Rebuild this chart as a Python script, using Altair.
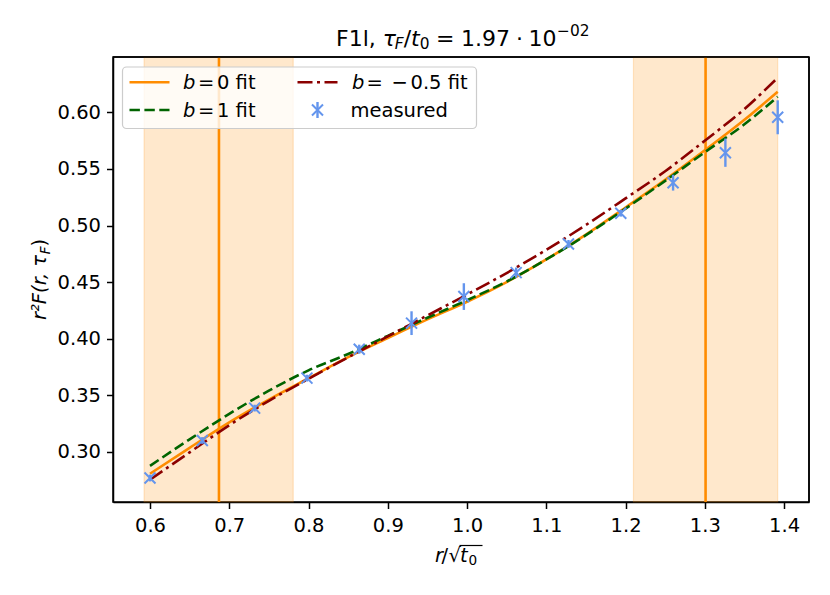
import altair as alt
import pandas as pd

# ---------------- data ----------------
r_meas = [0.600, 0.666, 0.732, 0.798, 0.864, 0.930, 0.996, 1.062, 1.128, 1.194, 1.260, 1.326, 1.392]
F_meas = [0.2768, 0.3100, 0.3386, 0.3651, 0.3907, 0.4137, 0.4372, 0.4584, 0.4837, 0.5109, 0.5379, 0.5644, 0.5957]
F_err = [0.0030, 0.0030, 0.0030, 0.0030, 0.0040, 0.0105, 0.0118, 0.0045, 0.0035, 0.0030, 0.0070, 0.0125, 0.0150]

r_fit = [0.600, 0.650, 0.700, 0.750, 0.800, 0.850, 0.900, 0.950, 1.000, 1.050, 1.100, 1.150, 1.200, 1.250, 1.300, 1.350, 1.392]
F_b0 = [0.2806, 0.3035, 0.3260, 0.3462, 0.3650, 0.3836, 0.4005, 0.4170, 0.4326, 0.4500, 0.4700, 0.4920, 0.5160, 0.5405, 0.5665, 0.5935, 0.6183]
F_b1 = [0.2876, 0.3110, 0.3335, 0.3540, 0.3720, 0.3865, 0.4025, 0.4185, 0.4340, 0.4505, 0.4700, 0.4915, 0.5150, 0.5395, 0.5648, 0.5895, 0.6139]
F_bm = [0.2753, 0.2995, 0.3235, 0.3450, 0.3645, 0.3835, 0.4020, 0.4205, 0.4390, 0.4580, 0.4785, 0.5005, 0.5240, 0.5480, 0.5750, 0.6030, 0.6307]

band_lo = [0.5925, 1.210]
band_hi = [0.7807, 1.392]
band_mid = [0.687, 1.301]

x_ticks = [0.6, 0.7, 0.8, 0.9, 1.0, 1.1, 1.2, 1.3, 1.4]
y_ticks = [0.30, 0.35, 0.40, 0.45, 0.50, 0.55, 0.60]

# ---------------- tables ----------------
meas = pd.DataFrame({"r": r_meas, "F": F_meas,
                     "lo": [f - e for f, e in zip(F_meas, F_err)],
                     "hi": [f + e for f, e in zip(F_meas, F_err)]})
fits = pd.concat([
    pd.DataFrame({"r": r_fit, "F": F_b0, "s": "b0"}),
    pd.DataFrame({"r": r_fit, "F": F_b1, "s": "b1"}),
    pd.DataFrame({"r": r_fit, "F": F_bm, "s": "bm"}),
])
bands = pd.DataFrame({"lo": band_lo, "hi": band_hi, "mid": band_mid})
one = pd.DataFrame({"k": [0]})

W, H = 696, 445
X0, Y0 = 113, 57
FONT = "DejaVu Sans"
ORANGE = "#ff8c00"
GREEN = "#006400"
RED = "#8b0000"
BLUE = "#6495ed"
XPATH = "M-1,-1L1,1M-1,1L1,-1"

xs = alt.Scale(domain=[0.5533, 1.4315], nice=False, zero=False)
ys = alt.Scale(domain=[0.2556, 0.649], nice=False, zero=False)
common_axis = dict(title=None, grid=False, labelFontSize=19.5, labelFont=FONT, labelColor="black",
                   tickColor="black", domainColor="black", tickSize=6.5, tickWidth=1.5,
                   domainWidth=1.5, labelFlush=False, labelOverlap=False, labelBound=False)
xax = alt.Axis(values=x_ticks, format=".1f", labelPadding=8, **common_axis)
yax = alt.Axis(values=y_ticks, format=".2f", labelPadding=6, **common_axis)


def X(f):
    return alt.X(f, type="quantitative", scale=xs, axis=xax)


def Y(f):
    return alt.Y(f, type="quantitative", scale=ys, axis=yax)


def txt(s, px, py, size=19.5, italic=False, angle=0):
    return alt.Chart(one).mark_text(
        text=s, align="left", baseline="alphabetic", fontSize=size, font=FONT,
        fontStyle="italic" if italic else "normal", angle=angle, color="black"
    ).encode(x=alt.value(px - X0), y=alt.value(py - Y0))


def hline(px1, px2, py, color, dash=None, width=2.6):
    kw = dict(color=color, strokeWidth=width)
    if dash:
        kw["strokeDash"] = dash
    return alt.Chart(one).mark_rule(**kw).encode(
        x=alt.value(px1 - X0), x2=alt.value(px2 - X0), y=alt.value(py - Y0))


DASH = [10.4, 4.5]
DASHDOT = [15, 4.5, 3, 4.5]

layers = []
# shaded windows
layers.append(alt.Chart(bands).mark_rect(fill=ORANGE, fillOpacity=0.2, stroke=ORANGE,
                                         strokeOpacity=0.2, strokeWidth=1.2).encode(
    x=X("lo"), x2="hi", y=alt.value(0), y2=alt.value(H)))
# vertical lines
layers.append(alt.Chart(bands).mark_rule(color=ORANGE, strokeWidth=2.6).encode(x=X("mid")))
# fits
for key, color, dash in [("b0", ORANGE, None), ("b1", GREEN, DASH), ("bm", RED, DASHDOT)]:
    kw = dict(color=color, strokeWidth=2.6, interpolate="monotone")
    if dash:
        kw["strokeDash"] = dash
    layers.append(alt.Chart(fits).transform_filter(alt.datum.s == key).mark_line(**kw).encode(
        x=X("r"), y=Y("F")))
# measured
layers.append(alt.Chart(meas).mark_rule(color=BLUE, strokeWidth=2.4).encode(x=X("r"), y=Y("lo"), y2="hi"))
layers.append(alt.Chart(meas).mark_point(shape=XPATH, size=121, strokeWidth=2, color=BLUE,
                                         filled=False, opacity=1).encode(x=X("r"), y=Y("F")))

# frame (top and right edges of the axes box)
layers.append(alt.Chart(one).mark_rule(color="black", strokeWidth=1.5).encode(
    x=alt.value(0), x2=alt.value(W), y=alt.value(0)))
layers.append(alt.Chart(one).mark_rule(color="black", strokeWidth=1.5).encode(
    x=alt.value(W), y=alt.value(0), y2=alt.value(H)))

# legend box
layers.append(alt.Chart(one).mark_rect(fill="white", fillOpacity=0.8, stroke="#cccccc",
                                       strokeWidth=1.2, cornerRadius=4).encode(
    x=alt.value(122.5 - X0), x2=alt.value(476.5 - X0), y=alt.value(67 - Y0), y2=alt.value(128.5 - Y0)))
R1, R2 = 82.3, 110.0
layers.append(hline(129.5, 169.5, R1, ORANGE))
layers.append(hline(129.5, 169.5, R2, GREEN, DASH))
layers.append(hline(297.5, 337.5, R1, RED, DASHDOT))
layers.append(alt.Chart(one).mark_rule(color=BLUE, strokeWidth=2.4).encode(
    x=alt.value(317.5 - X0), y=alt.value(R2 - 8 - Y0), y2=alt.value(R2 + 8 - Y0)))
layers.append(alt.Chart(one).mark_point(shape=XPATH, size=121, strokeWidth=2, color=BLUE,
                                        filled=False, opacity=1).encode(
    x=alt.value(317.5 - X0), y=alt.value(R2 - Y0)))
B1, B2 = R1 + 7, R2 + 7
layers += [
    txt("b", 183, B1, italic=True), txt("=", 198, B1), txt("0 fit", 217, B1),
    txt("b", 183, B2, italic=True), txt("=", 198, B2), txt("1 fit", 217, B2),
    txt("b", 352, B1, italic=True), txt("=", 366.5, B1), txt("\u2212", 391.5, B1), txt("0.5 fit", 410.5, B1),
    txt("measured", 350.5, B2),
]

# title pieces
TB = 45.5
layers += [
    txt("F1l,", 336, TB, 22),
    txt("\u03c4", 382.7, TB, 22, italic=True),
    txt("F", 394.8, TB + 3.5, 15.4, italic=True),
    txt("/", 403.7, TB, 22),
    txt("t", 411.1, TB, 22, italic=True),
    txt("0", 419.7, TB + 3.5, 15.4),
    txt("=", 436.1, TB, 22),
    txt("1.97", 461.1, TB, 22),
    txt("\u00b7", 516, TB, 22),
    txt("10", 528.5, TB, 22),
    txt("\u221202", 557, TB - 9.5, 15.4),
]

# x axis label pieces
XB = 561.7
layers += [
    txt("r", 435, XB, italic=True),
    txt("/", 441.5, XB),
    txt("\u221a", 448.5, XB),
    txt("t", 460, XB, italic=True),
    txt("0", 468.5, XB + 3, 13.65),
    hline(459.5, 482.5, 545.5, "black", width=1.2),
]

# y axis label pieces (rotated)
YB = 46
layers += [
    txt("r\u00b2F(r, \u03c4", YB, 320, italic=True, angle=270),
    txt("F", YB + 4, 254.2, 13.65, italic=True, angle=270),
    txt(")", YB, 246.4, angle=270),
]

chart = alt.layer(*layers).properties(
    width=W, height=H,
    autosize=alt.AutoSizeParams(type="none"),
    padding={"left": 105, "top": 49, "right": 13, "bottom": 85},
).configure_view(stroke="black", strokeWidth=1.5)

chart.save("out.html", embed_options={"renderer": "svg", "actions": False})
